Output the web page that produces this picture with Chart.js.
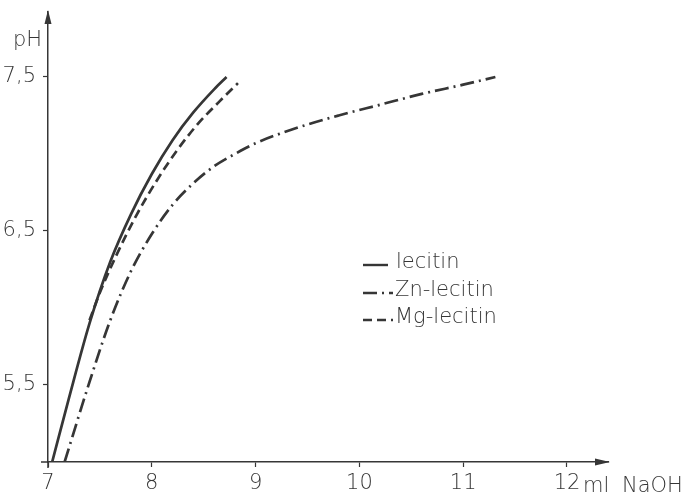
<!DOCTYPE html>
<html>
<head>
<meta charset="utf-8">
<script src="https://cdn.jsdelivr.net/npm/chart.js@4/dist/chart.umd.min.js"></script>
<style>
  html, body { margin: 0; padding: 0; background: #fff; }
  #wrap { width: 692px; height: 499px; }
</style>
</head>
<body>
<div id="wrap"><canvas id="chart"></canvas></div>
<script>
// values (ml NaOH vs pH)
const lecitinX = [7.04, 7.2, 7.4, 7.6, 7.8, 8.0, 8.2, 8.4, 8.6, 8.72];
const lecitinPH = [5.0, 5.41, 5.9, 6.3, 6.61, 6.87, 7.09, 7.27, 7.42, 7.5];
const znX = [7.16, 7.4, 7.6, 7.8, 8.0, 8.2, 8.4, 8.6, 8.8, 9.0, 9.4, 9.8, 10.2, 10.6, 11.0, 11.31];
const znPH = [5.0, 5.52, 5.92, 6.24, 6.48, 6.67, 6.81, 6.92, 7.0, 7.07, 7.17, 7.25, 7.32, 7.39, 7.45, 7.5];
const mgX = [7.40, 7.5, 7.65, 7.85, 8.05, 8.25, 8.45, 8.65, 8.83];
const mgPH = [5.92, 6.1, 6.33, 6.6, 6.83, 7.03, 7.2, 7.34, 7.46];

const xTicks = [7, 8, 9, 10, 11, 12];
const xTickLabels = ["7", "8", "9", "10", "11", "12"];
const yTicks = [5.5, 6.5, 7.5];
const yTickLabels = ["5,5", "6,5", "7,5"];
const seriesNames = ["lecitin", "Zn-lecitin", "Mg-lecitin"];

const ink = "#363636";
const fontFamily = "'DejaVu Sans', sans-serif";
const solid = [];
const dashDot = [14, 5, 2, 5];
const dashed = [9, 5];

const toPoints = (xs, ys) => xs.map((x, i) => ({ x: x, y: ys[i] }));

// arrows, axis names and the hand-drawn style legend
const decorations = {
  id: "decorations",
  afterDraw(chart) {
    const ctx = chart.ctx;
    const area = chart.chartArea;
    ctx.save();
    ctx.strokeStyle = ink;
    ctx.fillStyle = ink;
    ctx.lineWidth = 1.5;

    // little overhang of the axes past the origin
    ctx.beginPath();
    ctx.moveTo(area.left - 7, area.bottom);
    ctx.lineTo(area.left, area.bottom);
    ctx.moveTo(area.left, area.bottom);
    ctx.lineTo(area.left, area.bottom + 6);
    ctx.stroke();

    // arrow heads
    ctx.beginPath();
    ctx.moveTo(area.left, area.top - 2);
    ctx.lineTo(area.left - 3.5, area.top + 12);
    ctx.lineTo(area.left + 3.5, area.top + 12);
    ctx.closePath();
    ctx.fill();
    ctx.beginPath();
    ctx.moveTo(area.right + 2, area.bottom);
    ctx.lineTo(area.right - 13, area.bottom - 3.5);
    ctx.lineTo(area.right - 13, area.bottom + 3.5);
    ctx.closePath();
    ctx.fill();

    ctx.font = "200 21px " + fontFamily;
    ctx.textBaseline = "middle";
    ctx.textAlign = "left";
    ctx.fillText("pH", 13, 41);
    ctx.fillText("ml", 583, 487);
    ctx.fillText("NaOH", 622, 487);

    // legend
    const rows = [263, 291, 318];
    const dashes = [solid, dashDot, dashed];
    ctx.lineWidth = 2.4;
    rows.forEach((y, i) => {
      ctx.setLineDash(dashes[i]);
      ctx.beginPath();
      ctx.moveTo(363, y + 2);
      ctx.lineTo(i === 0 ? 388 : 393, y + 2);
      ctx.stroke();
      ctx.setLineDash([]);
      ctx.fillText(seriesNames[i], i === 0 ? 396 : 395, y);
    });
    ctx.restore();
  }
};

const lineStyle = (dash) => ({
  borderColor: ink,
  borderWidth: 2.7,
  borderDash: dash,
  borderCapStyle: "butt",
  pointRadius: 0,
  showLine: true,
  cubicInterpolationMode: "monotone",
  fill: false
});

new Chart(document.getElementById("chart"), {
  type: "scatter",
  data: {
    datasets: [
      Object.assign({ label: seriesNames[0], data: toPoints(lecitinX, lecitinPH) }, lineStyle(solid)),
      Object.assign({ label: seriesNames[1], data: toPoints(znX, znPH) }, lineStyle(dashDot)),
      Object.assign({ label: seriesNames[2], data: toPoints(mgX, mgPH) }, lineStyle(dashed))
    ]
  },
  options: {
    responsive: true,
    maintainAspectRatio: false,
    animation: false,
    layout: { padding: { top: 12, right: 84, left: 0, bottom: 0 } },
    plugins: {
      legend: { display: false },
      tooltip: { enabled: false }
    },
    scales: {
      x: {
        type: "linear",
        min: 7,
        max: 12.395,
        afterBuildTicks: (scale) => { scale.ticks = xTicks.map((v) => ({ value: v })); },
        afterFit: (scale) => {
          scale.height = 37;
          scale.paddingLeft = 0;
          scale.paddingRight = 0;
        },
        border: { display: true, color: ink, width: 1.5 },
        grid: { display: true, drawOnChartArea: false, color: ink, tickLength: 5, tickWidth: 1.2 },
        ticks: {
          color: ink,
          padding: 4,
          maxRotation: 0,
          font: { family: fontFamily, size: 21, weight: "200" },
          callback: (v) => xTickLabels[xTicks.indexOf(v)]
        }
      },
      y: {
        type: "linear",
        min: 5.0,
        max: 7.922,
        afterBuildTicks: (scale) => { scale.ticks = yTicks.map((v) => ({ value: v })); },
        afterFit: (scale) => {
          scale.width = 48;
          scale.paddingTop = 0;
          scale.paddingBottom = 0;
        },
        border: { display: true, color: ink, width: 1.5 },
        grid: { display: true, drawOnChartArea: false, color: ink, tickLength: 5, tickWidth: 1.2 },
        ticks: {
          color: ink,
          padding: 7,
          font: { family: fontFamily, size: 21, weight: "200" },
          callback: (v) => yTickLabels[yTicks.indexOf(v)]
        }
      }
    }
  },
  plugins: [decorations]
});
</script>
</body>
</html>
